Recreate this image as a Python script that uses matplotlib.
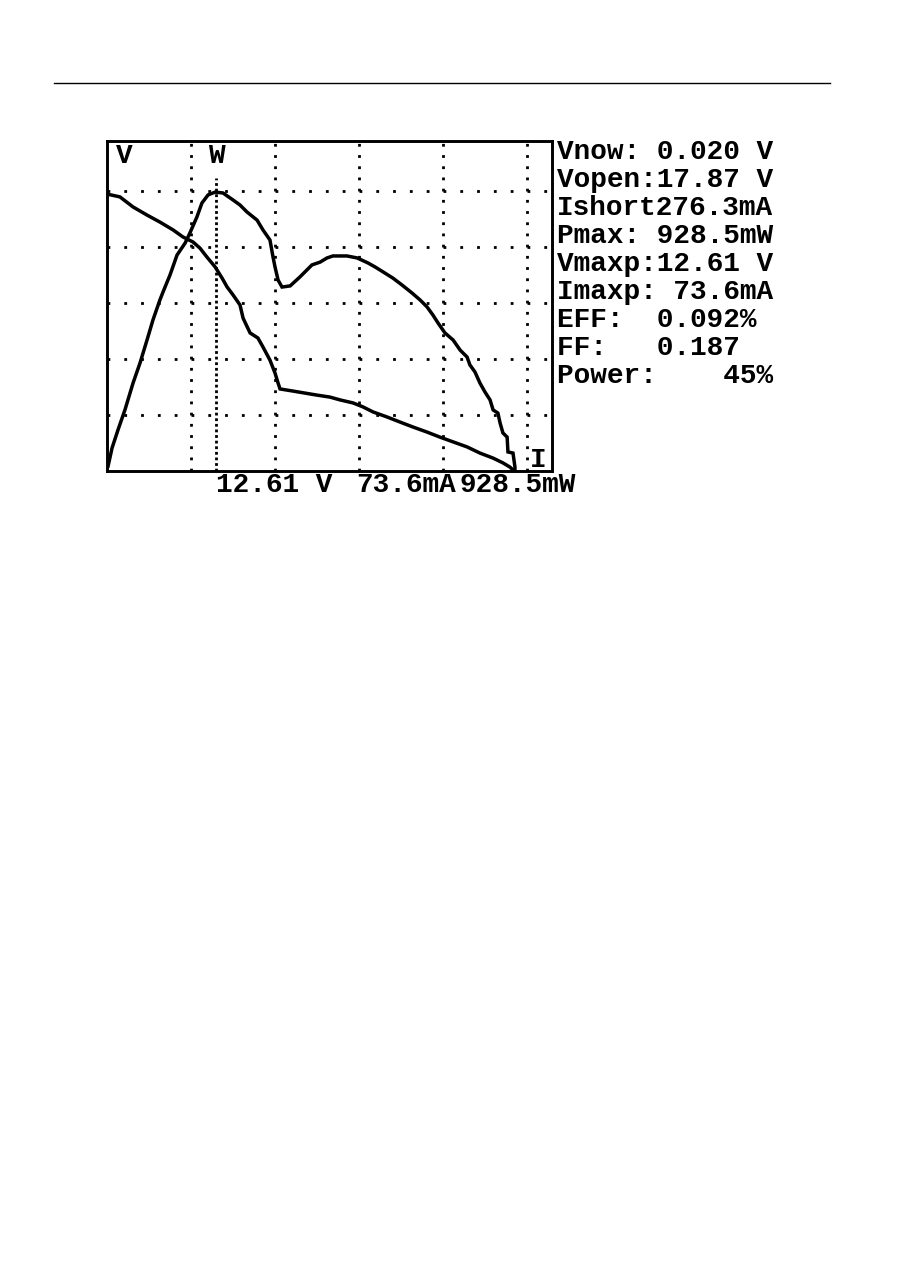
import matplotlib
matplotlib.use("Agg")
import matplotlib.pyplot as plt
from matplotlib.lines import Line2D

# ---- data (LCD plot units: x = sample column, y = LCD row) ----
i_x = [0, 4.6, 9.3, 14.3, 18.9, 23.6, 27.1, 30.7, 33.2, 35.7, 38.6, 41.1, 42.9, 45.0,
       47.5, 48.6, 51.1, 53.9, 55.7, 58.2, 60.0, 61.1, 61.8, 66.1, 75.0, 79.6, 83.2,
       87.9, 91.4, 95.0, 100.0, 104.6, 109.3, 114.3, 118.9, 123.6, 128.6, 133.2, 137.9,
       141.4, 143.9, 145.0]
i_y = [98.9, 97.9, 94.3, 91.4, 88.9, 86.1, 83.6, 81.8, 79.6, 76.4, 72.9, 68.9, 65.7, 62.9,
       59.3, 54.6, 49.3, 47.5, 44.3, 39.6, 35.0, 31.4, 29.3, 28.6, 27.1, 26.4, 25.4,
       24.3, 22.9, 21.1, 19.3, 17.5, 15.7, 13.9, 12.1, 10.4, 8.6, 6.4, 4.6,
       2.9, 1.4, 0.4]

w_x = [0.4, 1.8, 3.9, 6.4, 9.3, 11.8, 14.3, 16.4, 18.9, 20.0, 22.5, 25.0, 27.9, 29.6,
       32.1, 33.9, 36.1, 38.6, 41.4, 45.0, 47.5, 50.0, 53.6, 55.7, 58.2, 59.3, 60.0,
       61.1, 62.5, 65.4, 68.9, 73.2, 76.1, 78.6, 80.7, 85.7, 89.3, 93.2, 95.7, 98.6,
       102.1, 105.4, 108.9, 111.8, 114.3, 116.4, 118.2, 120.7, 123.6, 126.1, 128.6,
       129.6, 131.4, 133.2, 135.0, 136.8, 137.9, 139.6, 140.4, 141.4, 142.9, 143.2,
       145.0, 145.7, 145.7]
w_y = [1.8, 8.2, 14.6, 21.8, 31.4, 38.6, 46.8, 53.9, 61.1, 63.9, 70.0, 77.1, 81.4, 85.0,
       90.7, 95.7, 98.6, 99.6, 99.3, 96.8, 95.0, 92.5, 89.6, 86.1, 82.5, 76.4, 72.9,
       68.2, 65.7, 66.1, 69.3, 73.6, 74.6, 76.1, 76.8, 76.8, 76.1, 74.3, 72.9, 71.1,
       68.9, 66.4, 63.6, 61.1, 58.6, 55.7, 52.9, 49.3, 46.8, 43.2, 40.7,
       37.9, 35.4, 31.4, 28.2, 25.4, 21.8, 20.7, 17.1, 13.6, 12.1, 6.8,
       6.4, 1.4, 0.4]

grid_x = [30, 60, 90, 120, 150]
grid_y = [20, 40, 60, 80, 100]
marker_x = 39
marker_top = 104.6

info_labels = ["Vnow: 0.020 V", "Vopen:17.87 V", "Ishort276.3mA", "Pmax: 928.5mW",
               "Vmaxp:12.61 V", "Imaxp: 73.6mA", "EFF:  0.092%", "FF:   0.187",
               "Power:    45%"]
bottom_labels = ["12.61 V", "73.6mA", "928.5mW"]

# ---- figure ----
W, H = 918, 1282
fig = plt.figure(figsize=(W / 100, H / 100), dpi=100)
fig.patch.set_facecolor("white")

def fx(px):
    return px / W

def fy(py):
    return 1 - py / H

L, R, T, B = 107, 552, 141, 471
ax = fig.add_axes([fx(L), fy(B), (R - L) / W, (B - T) / H])
ax.set_xlim(0, (R - L) / 2.8)
ax.set_ylim(0, (B - T) / 2.8)
ax.set_xticks([])
ax.set_yticks([])
for s in ax.spines.values():
    s.set_linewidth(2.1)
    s.set_color("black")

unit_pt = 2.8 * 72 / 100  # one LCD pixel in points
for gy in grid_y:
    ax.axhline(gy, color="black", lw=unit_pt, linestyle=(0, (1, 5)),
               dash_capstyle="butt", zorder=1)
for gx in grid_x:
    ax.axvline(gx, color="black", lw=unit_pt, linestyle=(0, (1, 3)),
               dash_capstyle="butt", zorder=1)
ax.plot([marker_x, marker_x], [0, marker_top], color="black", lw=unit_pt,
        linestyle=(0, (1, 1)), dash_capstyle="butt", zorder=1)

ax.plot(i_x, i_y, color="black", lw=2.5, solid_joinstyle="miter", zorder=3)
ax.plot(w_x, w_y, color="black", lw=2.5, solid_joinstyle="miter", zorder=3)

font = dict(family=["Liberation Mono", "DejaVu Sans Mono"], weight="bold",
            size=20, color="black")

fig.text(fx(116), fy(163), "V", ha="left", va="baseline", **font)
fig.text(fx(208), fy(163), "W", ha="left", va="baseline", **font)
fig.text(fx(530), fy(467), "I", ha="left", va="baseline", **font)

for i, lab in enumerate(info_labels):
    fig.text(fx(557), fy(159 + 28.0 * i), lab, ha="left", va="baseline", **font)

for x0, lab in zip([216, 356, 460], bottom_labels):
    fig.text(fx(x0), fy(492), lab, ha="left", va="baseline", **font)

fig.add_artist(Line2D([fx(54), fx(830)], [fy(83), fy(83)], color="black", lw=1.0))

fig.savefig("out.png", dpi=100, facecolor="white")
